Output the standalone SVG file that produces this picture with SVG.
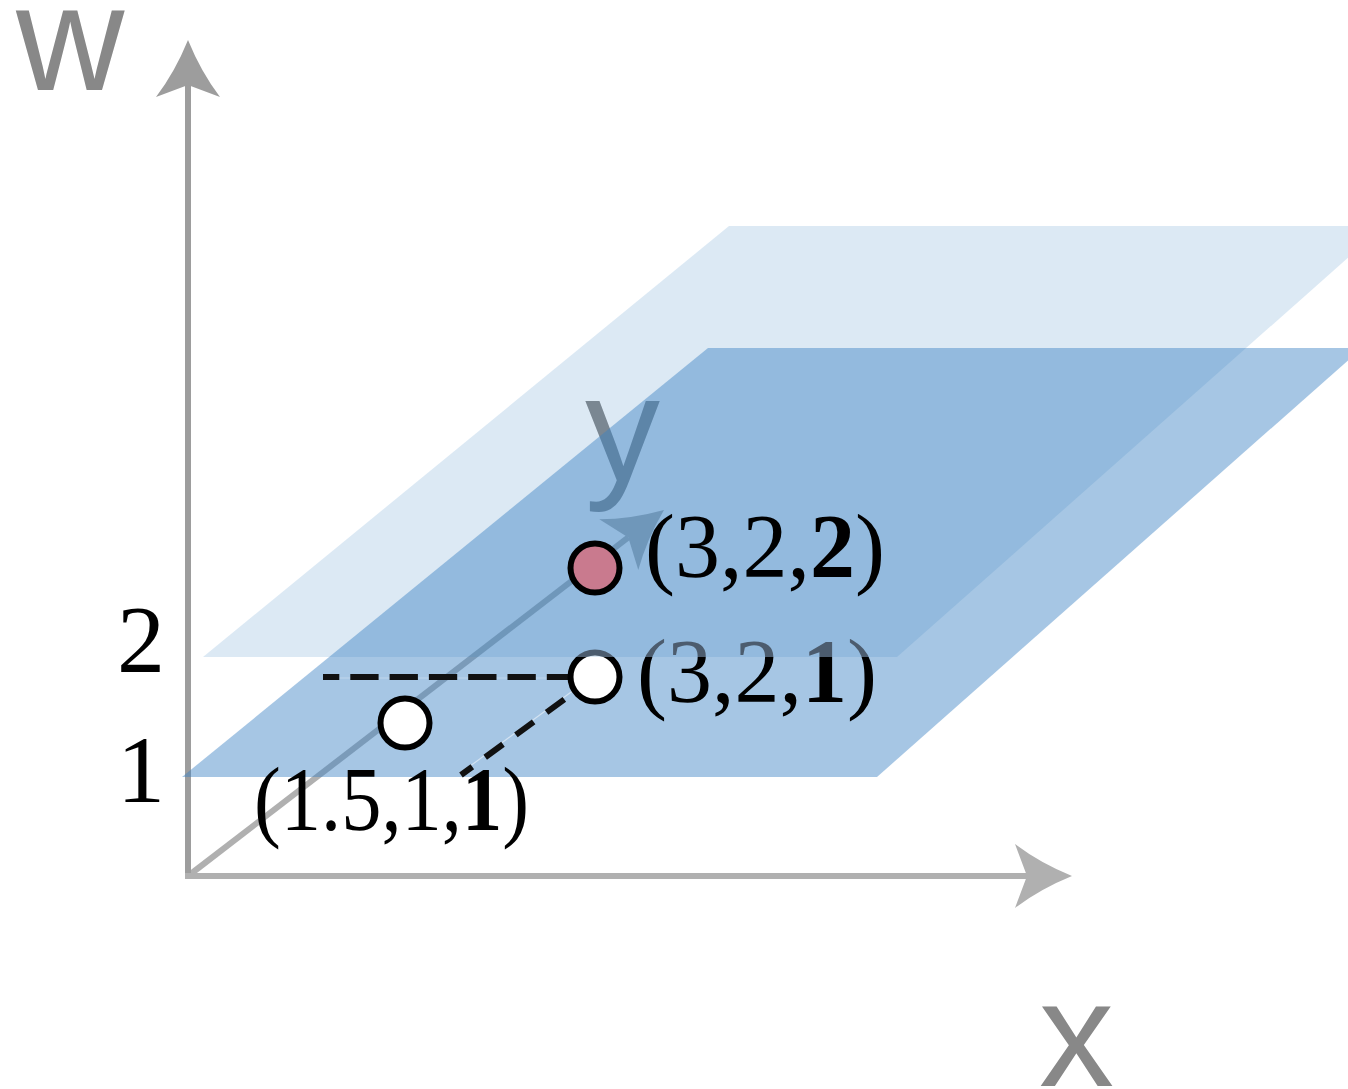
<svg xmlns="http://www.w3.org/2000/svg" width="1348" height="1089" viewBox="0 0 1348 1089">
<style>
.axis-w{stroke:#9d9d9d;stroke-width:6;fill:none}
.axis{stroke:#b0b0b0;stroke-width:6;fill:none}
.axlabel{font-family:"Liberation Sans",Arial,sans-serif;font-size:150px;fill:#888}
.coord{font-family:"Liberation Serif","Times New Roman",serif;font-size:90px;fill:#000}
.tick{font-family:"Liberation Serif","Times New Roman",serif;font-size:96px;fill:#000;text-anchor:end}
.dash{stroke:#111;stroke-width:6;fill:none}
.faint{stroke:#fff;stroke-width:1.2;fill:none}
.pt{stroke:#000;stroke-width:6}
.plane{fill:rgb(62,131,196)}
</style>
<defs>
<marker id="arrW" markerUnits="userSpaceOnUse" markerWidth="120" markerHeight="120" viewBox="-60 -60 120 120" refX="0" refY="0" orient="auto" overflow="visible">
<path d="M45,0 Q13,-13 -12,-32 L0,0 L-12,32 Q13,13 45,0 Z" fill="#9d9d9d"/>
</marker>
<marker id="arrX" markerUnits="userSpaceOnUse" markerWidth="120" markerHeight="120" viewBox="-60 -60 120 120" refX="0" refY="0" orient="auto" overflow="visible">
<path d="M45,0 Q13,-13 -12,-32 L0,0 L-12,32 Q13,13 45,0 Z" fill="#b0b0b0"/>
</marker>
<linearGradient id="g321" gradientUnits="userSpaceOnUse" x1="0" y1="600" x2="0" y2="720">
<stop offset="0.475" stop-color="#50545c"/>
<stop offset="0.475" stop-color="#000"/>
</linearGradient>
</defs>
<rect width="1348" height="1089" fill="#fff"/>

<g id="connectors">
<line id="axis-y" class="axis" x1="188" y1="876" x2="628.3" y2="537.4" marker-end="url(#arrX)"/>
<line id="axis-w" class="axis-w" x1="188" y1="879" x2="188" y2="85" marker-end="url(#arrW)"/>
<line id="axis-x" class="axis" x1="185" y1="876" x2="1027" y2="876" marker-end="url(#arrX)"/>
</g>

<g id="label-y"><text class="axlabel" x="585" y="481">y</text></g>
<g id="label-w"><text class="axlabel" x="16" y="90">w</text></g>
<g id="label-x"><text class="axlabel" x="1039" y="1086">x</text></g>

<g id="plane-w1"><polygon class="plane" fill-opacity="0.46" points="182,777 877,777 1362,348 708,348"/></g>

<g id="ticks">
<text class="tick" x="165" y="672">2</text>
<text class="tick" x="165" y="802">1</text>
</g>

<g id="guides">
<line class="faint" stroke-opacity="0.3" x1="323" y1="678" x2="572" y2="678"/>
<line class="faint" stroke-opacity="0.5" x1="462" y1="772" x2="578" y2="687"/>
<line class="dash" x1="323" y1="677" x2="595" y2="677" stroke-dasharray="28.3 11" stroke-dashoffset="12"/>
<line class="dash" x1="595" y1="677" x2="461" y2="775" stroke-dasharray="22 16"/>
</g>

<g id="point-1-5-1-1">
<circle class="pt" cx="405" cy="723" r="24.5" fill="#fff"/>
<text class="coord" x="254" y="830" textLength="275" lengthAdjust="spacingAndGlyphs">(1.5,1,<tspan font-weight="bold">1</tspan>)</text>
</g>

<g id="point-3-2-1">
<circle cx="595" cy="677" r="24.5" fill="#fff" stroke="url(#g321)" stroke-width="6"/>
<text class="coord" x="637" y="702" style="fill:url(#g321)">(3,2,<tspan font-weight="bold">1</tspan>)</text>
</g>

<g id="plane-w2"><polygon class="plane" fill-opacity="0.18" points="203,657 897,657 1384,226 729,226"/></g>

<g id="point-3-2-2">
<circle class="pt" cx="595" cy="568" r="24.5" fill="#c97a8e"/>
<text class="coord" x="645" y="577">(3,2,<tspan font-weight="bold">2</tspan>)</text>
</g>
</svg>
